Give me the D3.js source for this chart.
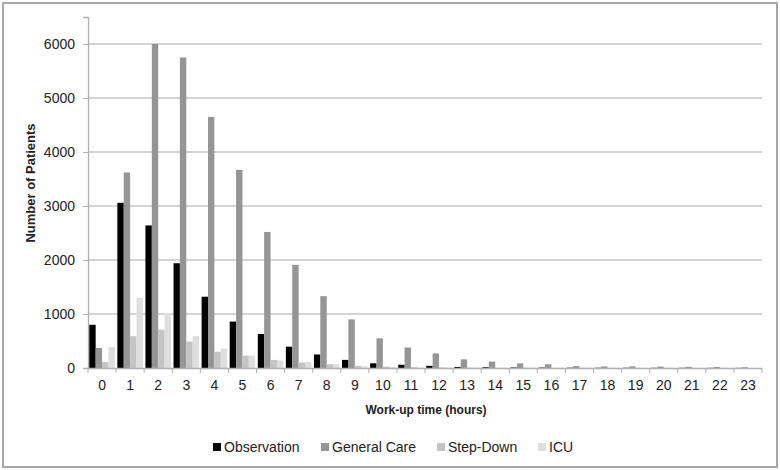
<!DOCTYPE html>
<html>
<head>
<meta charset="utf-8">
<script src="https://cdn.jsdelivr.net/npm/d3@7"></script>
<style>
  body { margin: 0; background: #fff; }
  text { font-family: "Liberation Sans", Arial, sans-serif; }
</style>
</head>
<body>
<script>
// work-up time distribution per unit

var hours = d3.range(0, 24).map(String);
var seriesNames = ["Observation", "General Care", "Step-Down", "ICU"];
var seriesColors = ["#000000", "#959595", "#c4c4c4", "#dedede"];

var observation = [800, 3060, 2640, 1940, 1320, 860, 630, 395, 250, 150, 87, 60, 40, 20, 15, 10, 8, 6, 5, 5, 4, 4, 3, 3];
var generalCare = [370, 3620, 6000, 5750, 4650, 3670, 2520, 1910, 1330, 900, 550, 380, 270, 160, 120, 85, 70, 35, 30, 30, 25, 22, 20, 15];
var stepDown = [110, 590, 710, 490, 300, 230, 150, 100, 70, 40, 25, 15, 10, 8, 6, 5, 4, 3, 3, 2, 2, 2, 2, 1];
var icu = [390, 1300, 1020, 590, 360, 230, 140, 110, 70, 30, 20, 10, 8, 6, 5, 4, 3, 3, 2, 2, 2, 2, 1, 1];

var yTicks = [0, 1000, 2000, 3000, 4000, 5000, 6000];

var allSeries = [observation, generalCare, stepDown, icu];

var width = 780, height = 470;
var margin = { left: 88, right: 18, top: 17, bottom: 102 };

var svg = d3.select("body").append("svg")
  .attr("width", width)
  .attr("height", height);

// outer frame
svg.append("rect")
  .attr("x", 3).attr("y", 3)
  .attr("width", 774).attr("height", 464)
  .attr("fill", "#fff")
  .attr("stroke", "#a8a8a8")
  .attr("stroke-width", 2);

var x = d3.scaleBand()
  .domain(hours)
  .range([margin.left, width - margin.right])
  .paddingInner(0)
  .paddingOuter(0);

var x1 = d3.scaleBand()
  .domain(d3.range(seriesNames.length))
  .range([0, x.bandwidth()])
  .paddingOuter(0.2)
  .paddingInner(0);

var y = d3.scaleLinear()
  .domain([0, 6500])
  .range([height - margin.bottom, margin.top]);

// gridlines
svg.append("g")
  .selectAll("line")
  .data(yTicks.slice(1))
  .enter()
  .append("line")
  .attr("x1", margin.left)
  .attr("x2", width - margin.right)
  .attr("y1", function (d) { return y(d); })
  .attr("y2", function (d) { return y(d); })
  .attr("stroke", "#c6c6c6")
  .attr("stroke-width", 1.3);

// y axis
var yAxis = svg.append("g")
  .attr("transform", "translate(" + margin.left + ",0)")
  .call(d3.axisLeft(y).tickValues(yTicks).tickFormat(d3.format("d")).tickSize(5).tickPadding(8));
yAxis.select(".domain").attr("stroke", "#b0b0b0").attr("stroke-width", 1.3);
yAxis.selectAll(".tick line").attr("stroke", "#b0b0b0");
yAxis.selectAll("text").attr("font-size", 14).attr("fill", "#222");

// bars
var groups = svg.append("g")
  .selectAll("g")
  .data(allSeries)
  .enter()
  .append("g")
  .attr("fill", function (d, i) { return seriesColors[i]; });

groups.each(function (vals, si) {
  d3.select(this).selectAll("rect")
    .data(vals)
    .enter()
    .append("rect")
    .attr("x", function (d, i) { return x(hours[i]) + x1(si); })
    .attr("width", x1.bandwidth())
    .attr("y", function (d) { return y(d); })
    .attr("height", function (d) { return y(0) - y(d); });
});

// x axis
var xAxis = svg.append("g")
  .attr("transform", "translate(0," + y(0) + ")")
  .call(d3.axisBottom(x).tickSize(0).tickPadding(12));
xAxis.select(".domain").attr("stroke", "#b0b0b0").attr("stroke-width", 1.3);
xAxis.selectAll("text").attr("font-size", 14).attr("fill", "#222");

// category boundary ticks
xAxis.append("g")
  .selectAll("line")
  .data(hours.concat(["end"]))
  .enter()
  .append("line")
  .attr("x1", function (d, i) { return margin.left + i * x.step(); })
  .attr("x2", function (d, i) { return margin.left + i * x.step(); })
  .attr("y1", 0)
  .attr("y2", 5)
  .attr("stroke", "#b0b0b0");

// axis titles
svg.append("text")
  .attr("x", 426)
  .attr("y", 414)
  .attr("text-anchor", "middle")
  .attr("font-size", 12)
  .attr("font-weight", "bold")
  .attr("fill", "#222")
  .text("Work-up time (hours)");

svg.append("text")
  .attr("transform", "translate(35,183) rotate(-90)")
  .attr("text-anchor", "middle")
  .attr("font-size", 13)
  .attr("font-weight", "bold")
  .attr("fill", "#222")
  .text("Number of Patients");

// legend
var legendX = [213, 321, 437, 538];
var legend = svg.append("g")
  .selectAll("g")
  .data(seriesNames)
  .enter()
  .append("g")
  .attr("transform", function (d, i) { return "translate(" + legendX[i] + ",447)"; });

legend.append("rect")
  .attr("x", 0).attr("y", -4)
  .attr("width", 8).attr("height", 8)
  .attr("fill", function (d, i) { return seriesColors[i]; });

legend.append("text")
  .attr("x", 11)
  .attr("y", 5)
  .attr("font-size", 14)
  .attr("fill", "#222")
  .text(function (d) { return d; });
</script>
</body>
</html>
